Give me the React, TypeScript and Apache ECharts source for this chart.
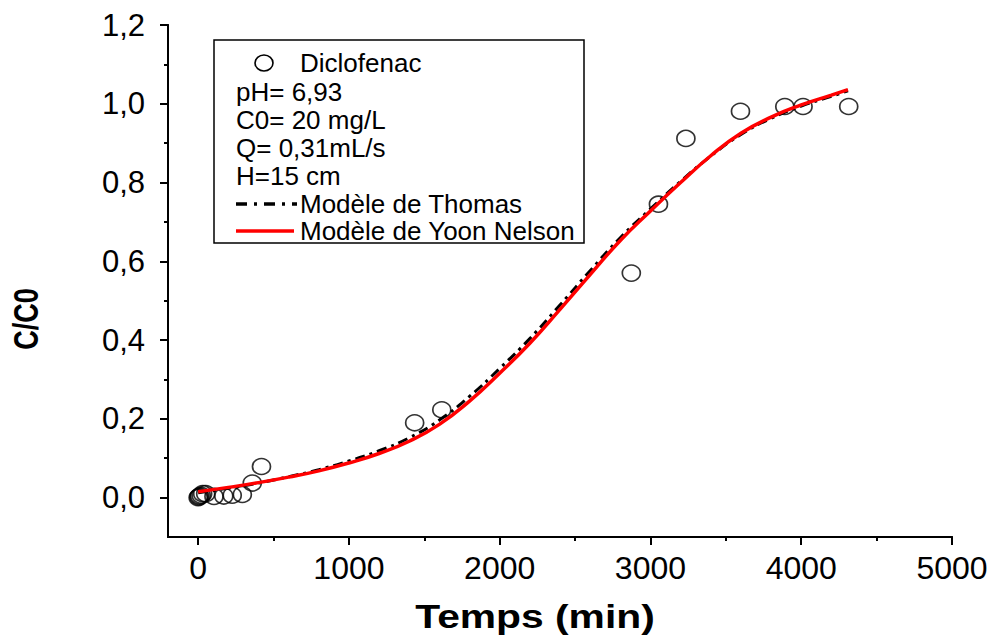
import React, { useEffect, useRef } from "react";
import * as echarts from "echarts";

// Experimental points (Diclofenac)
const expTime = [0, 5, 10, 20, 30, 50, 105, 170, 226, 293, 359, 420, 1436, 1616, 2873, 3053, 3235, 3597, 3891, 4012, 4315];
const expRatio = [0, 0.002, 0.004, 0.006, 0.01, 0.01, 0.003, 0.004, 0.006, 0.008, 0.037, 0.079, 0.19, 0.223, 0.57, 0.745, 0.912, 0.981, 0.993, 0.993, 0.993];

// Model curves
const modelTime = [0, 200, 400, 600, 800, 1000, 1200, 1400, 1600, 1800, 2000, 2200, 2400, 2600, 2800, 3000, 3200, 3400, 3600, 3800, 4000, 4200, 4310];
const thomas = [0.012, 0.024, 0.037, 0.053, 0.071, 0.093, 0.119, 0.152, 0.197, 0.257, 0.328, 0.404, 0.489, 0.576, 0.66, 0.733, 0.803, 0.867, 0.922, 0.963, 0.994, 1.019, 1.033];
const yoonNelson = [0.015, 0.026, 0.038, 0.052, 0.068, 0.088, 0.112, 0.143, 0.186, 0.245, 0.316, 0.392, 0.478, 0.566, 0.653, 0.728, 0.8, 0.868, 0.925, 0.966, 0.997, 1.022, 1.036];

// Axis ticks
const xMajor = [0, 1000, 2000, 3000, 4000, 5000];
const xMinor = [500, 1500, 2500, 3500, 4500];
const yMajor = [0, 0.2, 0.4, 0.6, 0.8, 1.0, 1.2];
const yMinor = [0.1, 0.3, 0.5, 0.7, 0.9, 1.1];

const legendInfo = ["pH= 6,93", "C0= 20 mg/L", "Q= 0,31mL/s", "H=15 cm"];

const FONT = '"Liberation Sans", Arial, sans-serif';

export default function App() {
  const ref = useRef<HTMLDivElement>(null);
  useEffect(() => {
    if (!ref.current) return;
    const chart = echarts.init(ref.current, undefined, { renderer: "svg" });
    const axisLine = { show: true, onZero: false, lineStyle: { color: "#000", width: 2 } };
    const option: any = {
      animation: false,
      backgroundColor: "#fff",
      grid: { left: 168, right: 41, top: 25, bottom: 101, containLabel: false, outerBoundsMode: "none" },
      xAxis: [
        {
          type: "value", min: -200, max: 5000, position: "bottom",
          axisLine,
          splitLine: { show: false },
          axisTick: { show: true, customValues: xMajor, length: 8, lineStyle: { color: "#000", width: 2 } },
          axisLabel: { customValues: xMajor, margin: 15, color: "#000", fontSize: 32, fontFamily: FONT, formatter: (v: number) => String(v) },
        },
        {
          type: "value", min: -200, max: 5000, position: "bottom", offset: 0,
          axisLine,
          splitLine: { show: false },
          axisTick: { show: true, customValues: xMinor, length: 4, lineStyle: { color: "#000", width: 2 } },
          axisLabel: { show: false },
        },
      ],
      yAxis: [
        {
          type: "value", min: -0.1, max: 1.2, position: "left",
          axisLine,
          splitLine: { show: false },
          axisTick: { show: true, customValues: yMajor, length: 8, lineStyle: { color: "#000", width: 2 } },
          axisLabel: { customValues: yMajor, margin: 23, color: "#000", fontSize: 31, fontFamily: FONT, formatter: (v: number) => v.toFixed(1).replace(".", ",") },
        },
        {
          type: "value", min: -0.1, max: 1.2, position: "left", offset: 0,
          axisLine,
          splitLine: { show: false },
          axisTick: { show: true, customValues: yMinor, length: 4, lineStyle: { color: "#000", width: 2 } },
          axisLabel: { show: false },
        },
      ],
      series: [
        {
          name: "Diclofenac", type: "scatter", xAxisIndex: 0, yAxisIndex: 0,
          data: expTime.map((t, i) => [t, expRatio[i]]),
          symbol: "circle", symbolSize: [18, 16],
          itemStyle: { color: "rgba(255,255,255,0)", borderColor: "#000", borderWidth: 1.6 },
          z: 2,
        },
        {
          name: "Modèle de Thomas", type: "line", xAxisIndex: 0, yAxisIndex: 0,
          data: modelTime.map((t, i) => [t, thomas[i]]),
          smooth: 0.5, showSymbol: false,
          lineStyle: { color: "#000", width: 3, type: [10, 5, 3, 5] },
          z: 3,
        },
        {
          name: "Modèle de Yoon Nelson", type: "line", xAxisIndex: 0, yAxisIndex: 0,
          data: modelTime.map((t, i) => [t, yoonNelson[i]]),
          smooth: 0.5, showSymbol: false,
          lineStyle: { color: "#ff0000", width: 3.5 },
          z: 4,
        },
      ],
      graphic: [
        { type: "rect", shape: { x: 214, y: 40, width: 370, height: 203 }, style: { fill: "#fff", stroke: "#000", lineWidth: 1.5 }, z: 10 },
        { type: "ellipse", shape: { cx: 264, cy: 63, rx: 9, ry: 8 }, style: { fill: "#fff", stroke: "#000", lineWidth: 1.6 }, z: 11 },
        { type: "text", x: 300, y: 63, style: { text: "Diclofenac", fill: "#000", fontSize: 26, fontFamily: FONT, align: "left", verticalAlign: "middle" }, z: 11 },
        ...legendInfo.map((s, i) => ({
          type: "text", x: 236, y: 92 + i * 28,
          style: { text: s, fill: "#000", fontSize: 26, fontFamily: FONT, align: "left", verticalAlign: "middle" }, z: 11,
        })),
        { type: "line", shape: { x1: 236, y1: 204, x2: 297, y2: 204 }, style: { stroke: "#000", lineWidth: 3.5, lineDash: [11, 7, 3, 7] }, z: 11 },
        { type: "text", x: 300, y: 204, style: { text: "Modèle de Thomas", fill: "#000", fontSize: 26, fontFamily: FONT, align: "left", verticalAlign: "middle" }, z: 11 },
        { type: "line", shape: { x1: 236, y1: 231, x2: 294, y2: 231 }, style: { stroke: "#ff0000", lineWidth: 3.5 }, z: 11 },
        { type: "text", x: 300, y: 231, style: { text: "Modèle de Yoon Nelson", fill: "#000", fontSize: 26, fontFamily: FONT, align: "left", verticalAlign: "middle" }, z: 11 },
        { type: "text", x: 535, y: 616, scaleX: 1.2, style: { text: "Temps (min)", fill: "#000", fontSize: 34, fontWeight: "bold", fontFamily: FONT, align: "center", verticalAlign: "middle" }, z: 11 },
        { type: "text", x: 26, y: 319, rotation: Math.PI / 2, scaleY: 1.3, style: { text: "C/C0", fill: "#000", fontSize: 27, fontWeight: "bold", fontFamily: FONT, align: "center", verticalAlign: "middle" }, z: 11 },
      ],
    };
    chart.setOption(option);
    return () => chart.dispose();
  }, []);
  return <div ref={ref} style={{ position: "fixed", left: 0, top: 0, width: 993, height: 638, background: "#fff" }} />;
}
